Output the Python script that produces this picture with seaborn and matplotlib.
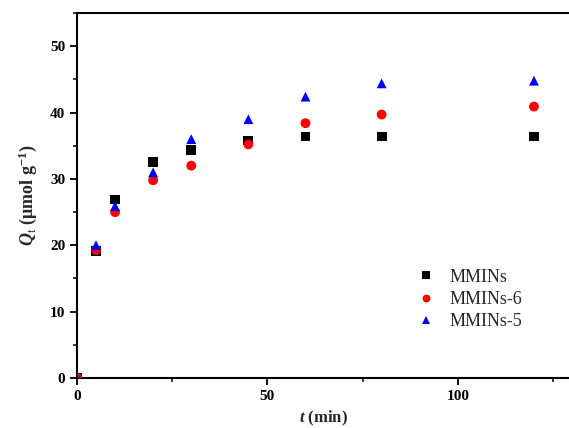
import matplotlib
matplotlib.use("Agg")
import matplotlib.pyplot as plt
import seaborn as sns
import pandas as pd
from matplotlib.ticker import MultipleLocator

time_min = [0, 5, 10, 20, 30, 45, 60, 80, 120]
q_mmins = [0, 19.1, 26.9, 32.5, 34.4, 35.8, 36.4, 36.4, 36.4]
q_mmins6 = [0, 19.3, 25.0, 29.8, 32.0, 35.2, 38.4, 39.7, 40.9]
q_mmins5 = [0, 20.0, 25.9, 31.0, 36.0, 39.0, 42.4, 44.4, 44.8]
series_names = ["MMINs", "MMINs-6", "MMINs-5"]

frames = []
for name, vals in zip(series_names, [q_mmins, q_mmins6, q_mmins5]):
    frames.append(pd.DataFrame({"t": time_min, "Q": vals, "series": name}))
df = pd.concat(frames, ignore_index=True)

sns.set_style("ticks")
plt.rcParams['font.family'] = ['Liberation Serif', 'DejaVu Serif']
plt.rcParams['mathtext.fontset'] = 'custom'
plt.rcParams['mathtext.rm'] = 'Liberation Serif'
plt.rcParams['mathtext.it'] = 'Liberation Serif:italic:bold'
plt.rcParams['mathtext.bf'] = 'Liberation Serif:bold'

fig = plt.figure(figsize=(5.69, 4.28), dpi=100)
ax = fig.add_axes([0.1353, 0.1168, 0.8647, 0.8528])

palette = {"MMINs": "black", "MMINs-6": "red", "MMINs-5": "blue"}
markers = {"MMINs": "s", "MMINs-6": "o", "MMINs-5": "^"}
sns.scatterplot(data=df, x="t", y="Q", hue="series", style="series",
                palette=palette, markers=markers, s=50, linewidth=0,
                ax=ax, zorder=3)

ax.set_xlim(0, 129.2)
ax.set_ylim(0, 55)
ax.xaxis.set_major_locator(MultipleLocator(50))
ax.xaxis.set_minor_locator(MultipleLocator(25))
ax.yaxis.set_major_locator(MultipleLocator(10))
ax.yaxis.set_minor_locator(MultipleLocator(5))
ax.tick_params(which='major', direction='out', length=5, width=1.3,
               labelsize=11, colors='black')
ax.tick_params(which='minor', direction='out', length=3, width=1.3)
for lab in ax.get_xticklabels() + ax.get_yticklabels():
    lab.set_fontweight('bold')

ax.spines['right'].set_visible(False)
for s in ['left', 'bottom', 'top']:
    ax.spines[s].set_linewidth(1.5)
    ax.spines[s].set_color('black')

ax.set_xlabel(r"$t$ (min)", fontsize=12, fontweight='bold', labelpad=4)
ax.set_ylabel(r"$Q$$_{\mathrm{t}}$ ($\mathbf{\mu}$mol g$^{\mathbf{-1}}$)",
              fontsize=13, fontweight='bold', labelpad=8)

handles, labels = ax.get_legend_handles_labels()
leg = ax.legend(handles, labels, loc='center left', bbox_to_anchor=(0.665, 0.215),
                frameon=False, fontsize=13, markerscale=0.8,
                handletextpad=0.5, handlelength=1.6, labelspacing=0.3,
                borderaxespad=0)

fig.savefig("out.png", dpi=100)
